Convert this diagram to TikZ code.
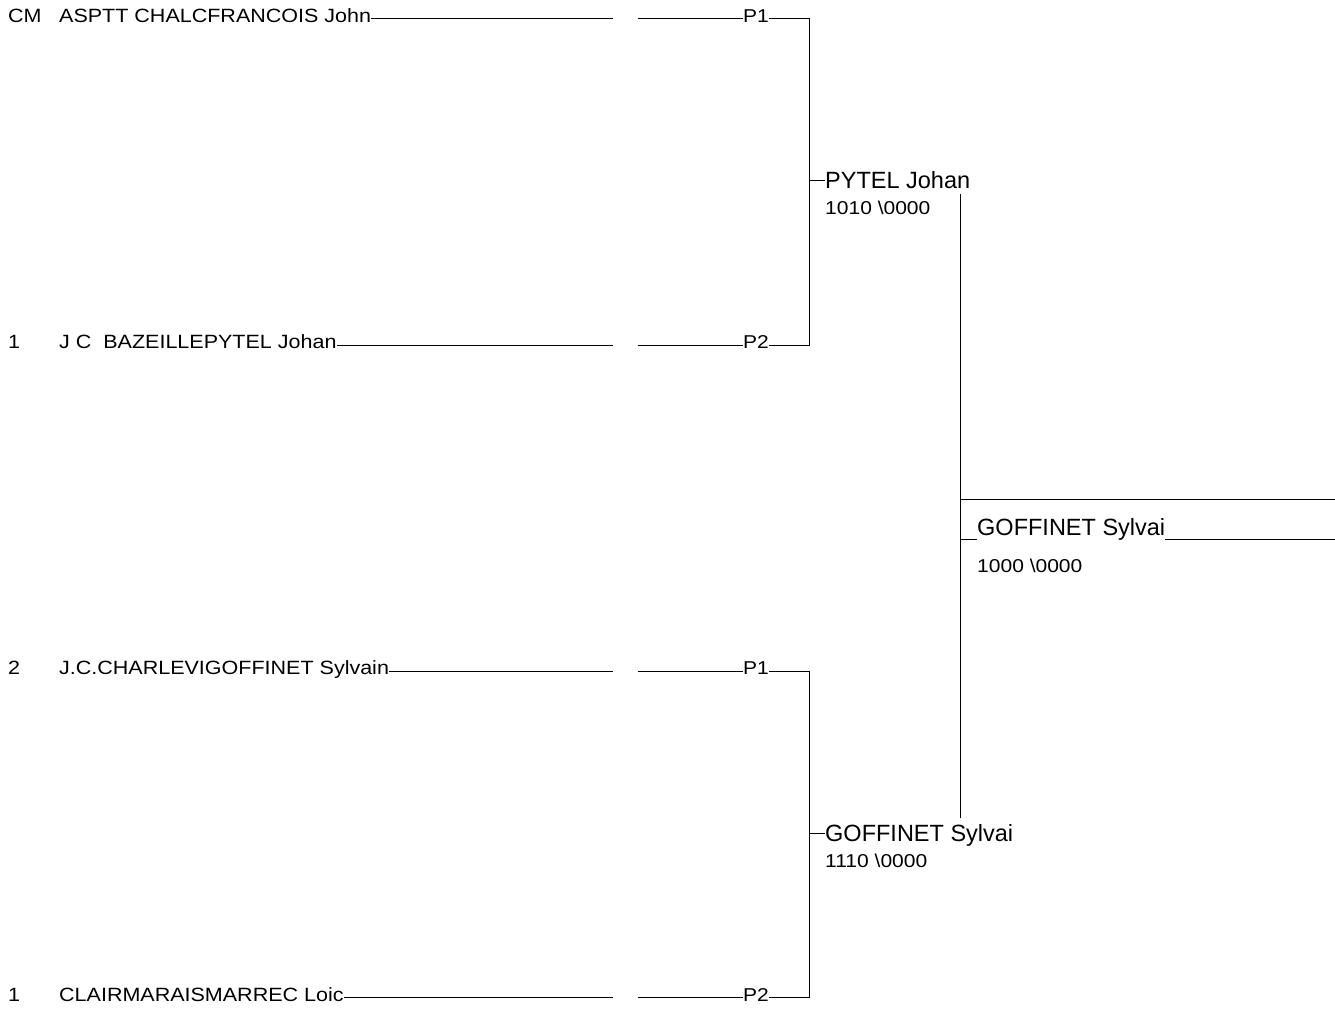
\documentclass[tikz,border=0pt]{standalone}
\usepackage{fontspec}
\setmainfont{Liberation Sans}
\newfontfamily\rowfont[FakeStretch=1.12]{Liberation Sans}
\newfontfamily\scorefont[FakeStretch=1.13]{Liberation Sans}
\newcommand{\rowsz}{\rowfont\fontsize{19.2}{21}\selectfont}
\newcommand{\scoresz}{\scorefont\fontsize{18.6}{20}\selectfont}
\newcommand{\bigsz}{\fontsize{23.5}{26}\selectfont}
\begin{document}
\begin{tikzpicture}[x=1pt,y=-1pt,
  ln/.style={line width=1pt, black},
  txt/.style={inner sep=0pt, anchor=base west, font=\rowsz},
  sco/.style={inner sep=0pt, anchor=base west, font=\scoresz},
  win/.style={inner sep=0pt, anchor=base west, font=\bigsz}]
\useasboundingbox (0,0) rectangle (1335,1012);
% row line levels
\coordinate (L1) at (0,18.7);
\coordinate (L2) at (0,345);
\coordinate (L3) at (0,671.3);
\coordinate (L4) at (0,997.6);
% row texts
\node[txt] (s1) at (8,22.2) {CM};
\node[txt] (n1) at (59,22.2) {ASPTT CHALCFRANCOIS John};
\node[txt] (s2) at (8,348.5) {1};
\node[txt] (n2) at (59,348.5) {J C\ \ BAZEILLEPYTEL Johan};
\node[txt] (s3) at (8,674.8) {2};
\node[txt] (n3) at (59,674.8) {J.C.CHARLEVIGOFFINET Sylvain};
\node[txt] (s4) at (8,1001.1) {1};
\node[txt] (n4) at (59,1001.1) {CLAIRMARAISMARREC Loic};
% P labels
\node[sco] (p1) at (743,22.2) {P1};
\node[sco] (p2) at (743,348.5) {P2};
\node[sco] (p3) at (743,674.8) {P1};
\node[sco] (p4) at (743,1001.1) {P2};
% gap coordinates
\foreach \i/\y in {1/18.7,2/345,3/671.3,4/997.6}{
  \coordinate (ga\i) at (612.7,\y);
  \coordinate (gb\i) at (637.7,\y);
  \coordinate (c\i) at (809.5,\y);
}
\foreach \i in {1,2,3,4}{
  \draw[ln] (n\i.base east |- L\i) -- (ga\i);
  \draw[ln] (gb\i) -- (p\i.base west |- L\i);
  \draw[ln] (p\i.base east |- L\i) -- (c\i);
}
% brackets
\draw[ln] (c1) -- (c2);
\draw[ln] (c3) -- (c4);
% semi-final winners
\node[win] (w1) at (825,188.3) {PYTEL Johan};
\node[sco] (sc1) at (825,214) {1010 \textbackslash 0000};
\coordinate (t1) at (809.5,180.7);
\draw[ln] (t1) -- (w1.base west |- t1);
\node[win] (w2) at (825,841.5) {GOFFINET Sylvai};
\node[sco] (sc2) at (825,867.5) {1110 \textbackslash 0000};
\coordinate (t2) at (809.5,833.5);
\draw[ln] (t2) -- (w2.base west |- t2);
% final
\coordinate (v1) at (960.5,194);
\coordinate (v2) at (960.5,818);
\draw[ln] (v1) -- (v2);
\coordinate (h1) at (960.5,499);
\coordinate (h1e) at (1335,499);
\draw[ln] (h1) -- (h1e);
\node[win] (w3) at (977,535) {GOFFINET Sylvai};
\node[sco] (sc3) at (977,572) {1000 \textbackslash 0000};
\coordinate (f1) at (960.5,539.3);
\coordinate (f2) at (1335,539.3);
\draw[ln] (f1) -- (w3.base west |- f1);
\draw[ln] (w3.base east |- f1) -- (f2);
\end{tikzpicture}
\end{document}
